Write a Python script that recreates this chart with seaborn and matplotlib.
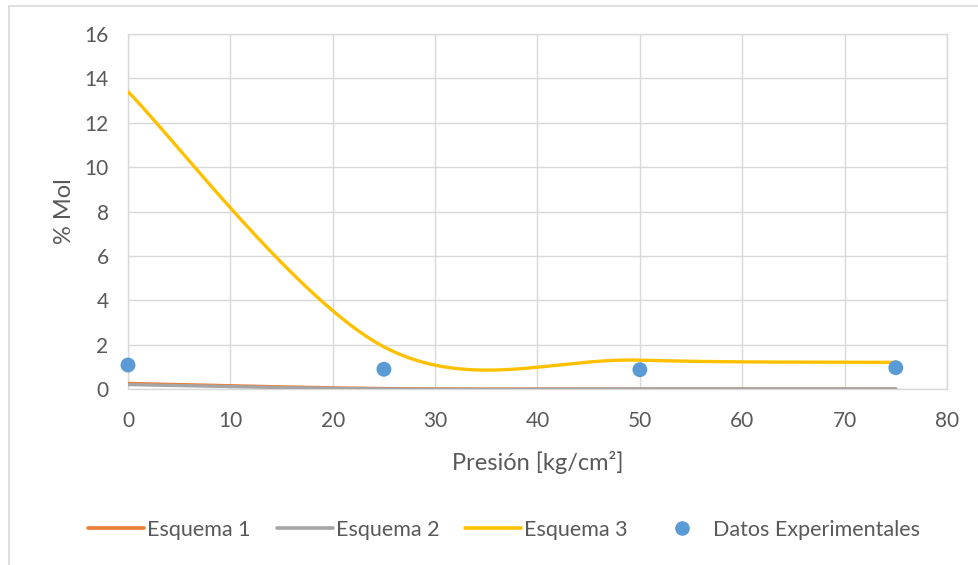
import numpy as np
import pandas as pd
import matplotlib
matplotlib.use("Agg")
import matplotlib.pyplot as plt
from matplotlib.lines import Line2D
import seaborn as sns

# Pressure points (kg/cm2) and mole percent for each scheme
presion = [0, 25, 50, 75]
esquema_1 = [0.25, 0.02, 0.0, 0.0]
esquema_2 = [0.20, 0.0, 0.0, 0.0]
esquema_3 = [13.4, 1.9, 1.3, 1.2]

# Experimental measurements
presion_exp = [0, 25, 50, 75]
datos_exp = [1.08, 0.89, 0.87, 0.96]

x_ticks = [0, 10, 20, 30, 40, 50, 60, 70, 80]
y_ticks = [0, 2, 4, 6, 8, 10, 12, 14, 16]

C_ORANGE = "#ED7D31"
C_GRAY = "#A5A5A5"
C_YELLOW = "#FFC000"
C_BLUE = "#5B9BD5"
C_GRID = "#D9D9D9"
C_TEXT = "#595959"


def smooth_curve(x, y, n=80):
    """Bezier smoothing through every point (Catmull-Rom style control points)."""
    p = np.column_stack([x, y]).astype(float)
    ext = np.vstack([p[0], p, p[-1]])
    out = []
    t = np.linspace(0, 1, n)[:, None]
    for i in range(len(p) - 1):
        p0, p3 = ext[i + 1], ext[i + 2]
        c1 = p0 + (ext[i + 2] - ext[i]) / 6.0
        c2 = p3 - (ext[i + 3] - ext[i + 1]) / 6.0
        seg = ((1 - t) ** 3) * p0 + 3 * ((1 - t) ** 2) * t * c1 \
            + 3 * (1 - t) * t ** 2 * c2 + t ** 3 * p3
        out.append(seg if i == 0 else seg[1:])
    seg = np.vstack(out)
    return seg[:, 0], seg[:, 1]


sns.set_theme(style="white")
plt.rcParams["font.family"] = ["Lato", "DejaVu Sans"]

fig = plt.figure(figsize=(9.79, 5.65), dpi=100)
ax = fig.add_axes([128 / 979, 1 - 389 / 565, (947 - 128) / 979, (389 - 34) / 565])

series = [("Esquema 1", esquema_1, C_ORANGE),
          ("Esquema 2", esquema_2, C_GRAY),
          ("Esquema 3", esquema_3, C_YELLOW)]
for name, vals, col in series:
    sx, sy = smooth_curve(presion, vals)
    df = pd.DataFrame({"x": sx, "y": sy})
    sns.lineplot(data=df, x="x", y="y", ax=ax, color=col, linewidth=2.4,
                 sort=False, estimator=None, legend=False, zorder=3)

df_exp = pd.DataFrame({"x": presion_exp, "y": datos_exp})
sns.scatterplot(data=df_exp, x="x", y="y", ax=ax, color=C_BLUE, s=115,
                edgecolor="none", legend=False, zorder=4, clip_on=False)

ax.set_xlim(0, 80)
ax.set_ylim(0, 16)
ax.set_xticks(x_ticks)
ax.set_yticks(y_ticks)
ax.grid(True, color=C_GRID, linewidth=1.0)
ax.set_axisbelow(True)
for sp in ax.spines.values():
    sp.set_color(C_GRID)
    sp.set_linewidth(1.0)
ax.tick_params(axis="both", length=0, labelsize=15, labelcolor=C_TEXT)
ax.tick_params(axis="x", pad=16)
ax.tick_params(axis="y", pad=14)
ax.set_xlabel("Presión [kg/cm²]", fontsize=17, color=C_TEXT, labelpad=14)
ax.set_ylabel("% Mol", fontsize=17, color=C_TEXT, labelpad=7)

handles = [Line2D([], [], color=C_ORANGE, lw=2.6),
           Line2D([], [], color=C_GRAY, lw=2.6),
           Line2D([], [], color=C_YELLOW, lw=2.6),
           Line2D([], [], color=C_BLUE, lw=0, marker="o", markersize=10.5,
                  markeredgewidth=0)]
labels = ["Esquema 1", "Esquema 2", "Esquema 3", "Datos Experimentales"]
fig.legend(handles, labels, loc="center", bbox_to_anchor=(0.515, 1 - 530 / 565),
           ncol=4, frameon=False, fontsize=15.5, labelcolor=C_TEXT,
           handlelength=2.6, handletextpad=0.15, columnspacing=1.2)

# chart frame lines
fig.add_artist(Line2D([9 / 979, 1.0], [1 - 6 / 565, 1 - 6 / 565],
                      transform=fig.transFigure, color=C_GRID, lw=1.2))
fig.add_artist(Line2D([9 / 979, 9 / 979], [0, 1 - 6 / 565],
                      transform=fig.transFigure, color=C_GRID, lw=1.2))

fig.savefig("out.png", dpi=100)
